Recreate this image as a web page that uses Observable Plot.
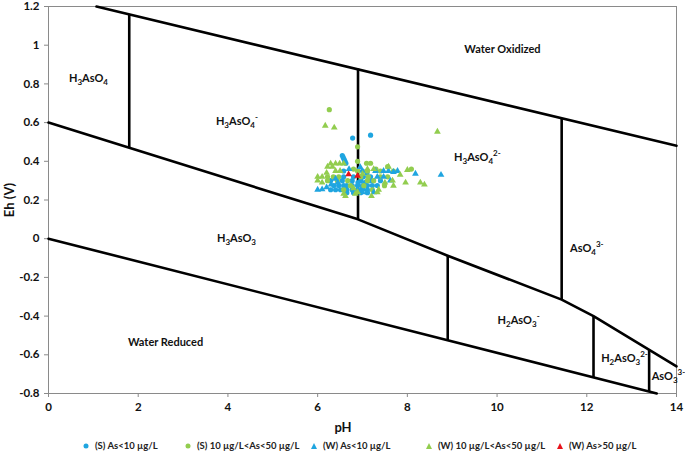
<!DOCTYPE html>
<html>
<head>
<meta charset="utf-8">
<script src="https://cdn.jsdelivr.net/npm/d3@7"></script>
<script src="https://cdn.jsdelivr.net/npm/@observablehq/plot@0.6"></script>
<style>
  body { margin: 0; background: #fff; }
  #wrap { position: relative; width: 685px; height: 460px; font-family: Lato, "Open Sans", sans-serif; }
  #legend { position: absolute; left: 0; top: 438px; width: 685px; height: 18px; font-size: 9.5px; font-weight: bold; color: #222; }
  #legend .item { position: absolute; top: 2px; white-space: nowrap; display: flex; align-items: center; }
  #legend svg { margin-right: 5px; }
</style>
</head>
<body>
<div id="wrap"><div id="chart"></div><div id="legend"></div></div>
<script>
// ---- axis ticks
const xTicks = [0, 2, 4, 6, 8, 10, 12, 14];
const yTicks = [-0.8, -0.6, -0.4, -0.2, 0, 0.2, 0.4, 0.6, 0.8, 1, 1.2];

// ---- Eh-pH boundary lines (pH, Eh)
const waterOxidizedLine = [[1.07, 1.2], [14, 0.48]];
const waterReducedLine = [[0, 0], [13.56, -0.8]];
const asRedoxLine = [[0, 0.6], [6.9, 0.1], [8.9, -0.088], [11.44, -0.315], [12.15, -0.40], [14, -0.66]];
// vertical boundaries: pH, Eh top, Eh bottom
const verticalBounds = [
  [1.8, 1.16, 0.47],
  [6.9, 0.88, 0.1],
  [11.44, 0.62, -0.315],
  [8.9, -0.088, -0.525],
  [12.15, -0.40, -0.717],
  [13.39, -0.574, -0.79]
];

// ---- species labels: {sub} and [sup]
const speciesNames = ["H{3}AsO{4}", "H{3}AsO{4}[-]", "Water Oxidized", "H{3}AsO{4}[2-]", "AsO{4}[3-]",
  "H{3}AsO{3}", "H{2}AsO{3}[-]", "Water Reduced", "H{2}AsO{3}[2-]", "AsO{3}[3-]"];
const speciesPH = [0.89, 4.2, 10.12, 9.56, 12.0, 4.19, 10.48, 2.61, 12.84, 13.82];
const speciesEh = [0.827, 0.605, 0.977, 0.419, -0.05, 0.0, -0.42, -0.537, -0.62, -0.713];

// ---- samples (pH, Eh)
const sAsLow = [[6.78,0.52],[7.18,0.535],[6.55,0.43],[6.57,0.42],[6.59,0.41],[6.61,0.40],[6.63,0.39],
  [6.58,0.35],[7.0,0.35],[6.58,0.32],[6.8,0.32],[7.02,0.32],[7.18,0.32],
  [6.29,0.30],[6.55,0.30],[6.77,0.30],[6.96,0.30],[7.18,0.30],[7.4,0.30],
  [6.36,0.275],[6.47,0.275],[6.58,0.275],[6.65,0.275],[6.77,0.275],[6.89,0.275],[7.0,0.275],[7.11,0.275],[7.22,0.275],[7.33,0.275],
  [6.29,0.253],[6.4,0.253],[6.51,0.253],[6.65,0.253],[6.77,0.253],[6.89,0.253],[7.0,0.253],[7.11,0.253],
  [6.65,0.238],[6.8,0.238],[6.96,0.238],[7.11,0.238],[7.0,0.26],[7.05,0.29],[7.1,0.34],[6.9,0.29]];
const sAsMid = [[6.26,0.667],[6.89,0.475],[6.89,0.40],[7.09,0.39],[7.18,0.39],[7.56,0.372],[6.89,0.35],[7.11,0.35],[7.4,0.35],
  [6.22,0.32],[6.35,0.32],[6.47,0.32],[6.96,0.32],[7.13,0.32],[7.4,0.32],[7.56,0.32],[6.22,0.30],[6.44,0.30],[6.67,0.30],
  [7.11,0.30],[7.25,0.30],[6.73,0.274],[7.03,0.274],[7.49,0.274],[6.58,0.253],[7.22,0.253],[8.09,0.36],[7.69,0.35],[6.8,0.36],[7.3,0.36]];
const wAsLow = [[6.0,0.253],[6.1,0.255],[6.2,0.265],[6.3,0.28],[7.29,0.35],[7.47,0.35],[7.58,0.35],[7.69,0.345],[7.78,0.35],
  [7.33,0.32],[7.47,0.32],[7.62,0.30],[6.4,0.31],[6.7,0.36],[6.95,0.37],[7.0,0.24],[8.18,0.336],[8.75,0.33],[7.25,0.24],[6.45,0.29]];
const wAsMid = [[6.17,0.584],[6.37,0.574],[8.67,0.553],[6.29,0.388],[6.4,0.388],[6.49,0.388],[6.58,0.388],
  [6.22,0.372],[6.33,0.372],[7.58,0.372],[6.4,0.35],[6.5,0.35],[7.11,0.36],[6.0,0.32],[6.1,0.32],[6.0,0.30],[6.1,0.29],
  [7.69,0.274],[7.36,0.253],[6.58,0.232],[6.84,0.232],[6.89,0.24],[7.33,0.24],[7.96,0.29],[8.29,0.29],[7.67,0.30],
  [8.38,0.28],[7.84,0.33],[8.0,0.355],[6.2,0.34],[7.0,0.335],[7.25,0.36],[6.8,0.26],[7.5,0.29],[6.62,0.22],[7.2,0.22]];
const wAsHigh = [[6.69,0.333],[6.89,0.325]];

const seriesNames = ["(S) As<10 µg/L", "(S) 10 µg/L<As<50 µg/L", "(W) As<10 µg/L", "(W) 10 µg/L<As<50 µg/L", "(W) As>50 µg/L"];
const seriesData = [sAsLow, sAsMid, wAsLow, wAsMid, wAsHigh];
const seriesColors = ["#1fa5e0", "#92cd4f", "#1fa5e0", "#92cd4f", "#e8121a"];
const seriesSymbols = ["circle", "circle", "triangle", "triangle", "triangle"];
const legendX = [82, 184, 310, 425, 556];

// ---- build tables
const samples = seriesData.flatMap((arr, i) => arr.map(([ph, eh]) => ({ph, eh, series: i})));
const polylines = [waterOxidizedLine, waterReducedLine, asRedoxLine]
  .flatMap((pts, id) => pts.map(([ph, eh]) => ({ph, eh, id})));
const verts = verticalBounds.map(([ph, top, bottom]) => ({ph, top, bottom}));
const labels = speciesNames.map((name, i) => ({name, ph: speciesPH[i], eh: speciesEh[i]}));

const fmtY = d => String(+d.toFixed(1));

const dotMarks = seriesData.map((arr, i) => Plot.dot(samples.filter(d => d.series === i), {
  x: "ph", y: "eh", symbol: () => seriesSymbols[i], r: seriesSymbols[i] === "circle" ? 2.6 : 2.5,
  fill: seriesColors[i], stroke: null
}));

const chart = Plot.plot({
  width: 685, height: 435,
  marginLeft: 48, marginRight: 9, marginTop: 6, marginBottom: 42,
  x: {domain: [0, 14]},
  y: {domain: [-0.8, 1.2]},
  symbol: {type: "identity"},
  style: {fontFamily: "Lato, 'Open Sans', sans-serif", fontSize: "11.5px", fontWeight: "bold", color: "#111", background: "#fff", overflow: "visible"},
  marks: [
    Plot.frame({stroke: "#8a8a8a", strokeWidth: 1}),
    Plot.axisX({ticks: xTicks, tickSize: 4, tickPadding: 5, tickFormat: d => String(d), label: null, stroke: "#8a8a8a", fill: "#111"}),
    Plot.axisY({ticks: yTicks, tickSize: 4, tickPadding: 5, tickFormat: fmtY, label: null, stroke: "#8a8a8a", fill: "#111"}),
    Plot.line(polylines, {x: "ph", y: "eh", z: "id", stroke: "#000", strokeWidth: 2.6}),
    Plot.link(verts, {x1: "ph", x2: "ph", y1: "top", y2: "bottom", stroke: "#000", strokeWidth: 2.6}),
    ...dotMarks,
    Plot.text(labels, {x: "ph", y: "eh", text: "name", fontSize: 11, fontWeight: "bold", fill: "#111"})
  ]
});

// rich text: {sub} and [sup]
d3.select(chart).selectAll("text").filter(function() { return speciesNames.includes(this.textContent); }).each(function() {
  const el = d3.select(this);
  const s = el.text();
  el.text(null);
  const re = /\{([^}]*)\}|\[([^\]]*)\]|([^{\[]+)/g;
  let m, offset = 0;
  while ((m = re.exec(s))) {
    let target = 0, txt, small = false;
    if (m[1] !== undefined) { target = 3; txt = m[1]; small = true; }
    else if (m[2] !== undefined) { target = -5; txt = m[2]; small = true; }
    else { txt = m[3]; }
    const t = el.append("tspan").attr("dy", target - offset).text(txt);
    if (small) t.attr("font-size", 8);
    offset = target;
  }
});

const svg = d3.select(chart);
svg.append("text").attr("transform", "translate(14,200) rotate(-90)")
  .attr("text-anchor", "middle").attr("font-size", 13).attr("font-weight", "bold").attr("fill", "#111").text("Eh (V)");
svg.append("text").attr("x", 343).attr("y", 432)
  .attr("text-anchor", "middle").attr("font-size", 13).attr("font-weight", "bold").attr("fill", "#111").text("pH");

document.getElementById("chart").appendChild(chart);

// legend
const legend = d3.select("#legend");
seriesNames.forEach((name, i) => {
  const item = legend.append("div").attr("class", "item").style("left", legendX[i] + "px");
  const s = item.append("svg").attr("width", 8).attr("height", 8);
  if (seriesSymbols[i] === "circle") s.append("circle").attr("cx", 4).attr("cy", 4).attr("r", 2.5).attr("fill", seriesColors[i]);
  else s.append("path").attr("d", "M4,1L7,7L1,7Z").attr("fill", seriesColors[i]);
  item.append("span").text(name);
});
</script>
</body>
</html>
